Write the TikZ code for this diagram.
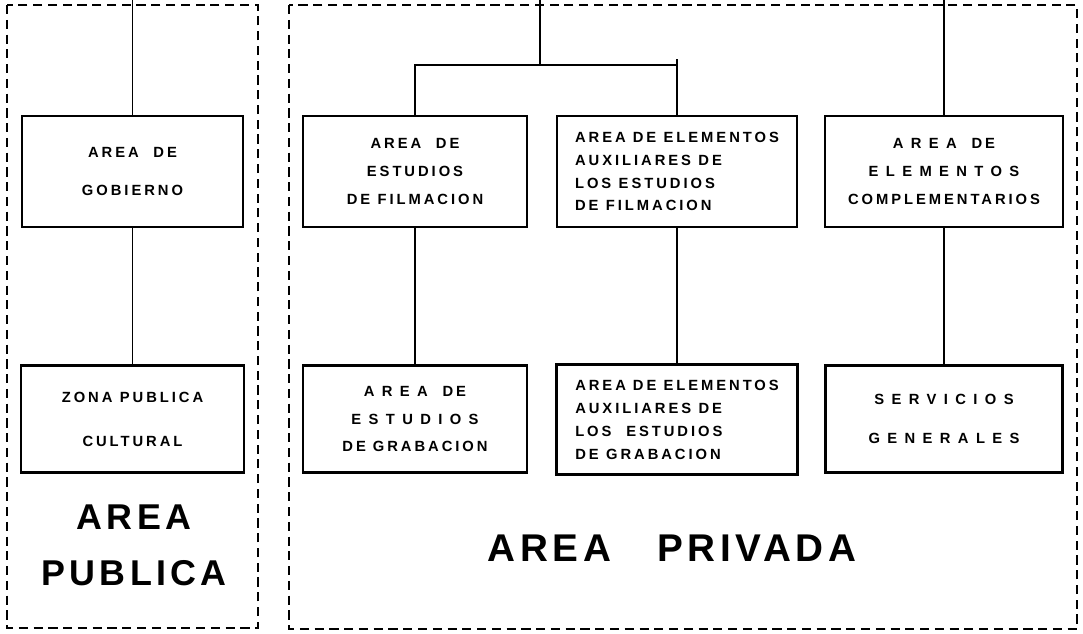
\documentclass[tikz,border=0pt]{standalone}
\usepackage{fontspec}
\setmainfont{Liberation Sans}
\newfontfamily\boxfont[LetterSpace=20]{Liberation Sans}
\newfontfamily\bigfont[LetterSpace=12]{Liberation Sans}
\newcommand{\wide}[1]{{\addfontfeature{LetterSpace=50}#1}}
\usetikzlibrary{positioning}

\begin{document}
\begin{tikzpicture}[x=0.025cm, y=-0.025cm,
    area/.style={draw, line width=1.8pt, minimum height=2.775cm, inner sep=2pt,
        align=center, font=\boxfont\bfseries\fontsize{10.5}{16.3}\selectfont},
    link/.style={line width=0.9pt},
    zone/.style={line width=1pt, dash pattern=on 6.5pt off 4pt}]

    \useasboundingbox (0,0) rectangle (1083,633);

    %zonas
    \draw[zone] (7,5) rectangle (258,628);
    \draw[zone] (289,5) rectangle (1077,629);

    %fila superior
    \node[area, minimum width=5.525cm] (gob) at (132.5,171.5) {AREA\quad DE\\[11pt]GOBIERNO};
    \node[area, minimum width=5.6cm] (film) at (415,171.5) {AREA\quad DE\\[3.5pt]ESTUDIOS\\[3.5pt]DE\enspace FILMACION};
    \node[area, minimum width=6cm, align=left] (auxfilm) at (677,171.5) {AREA DE\enspace ELEMENTOS\\AUXILIARES\enspace DE\\LOS\enspace ESTUDIOS\\DE\enspace FILMACION};
    \node[area, minimum width=5.95cm] (compl) at (944,171.5) {\wide{AREA}\quad DE\\[3.5pt]\wide{ELEMENTOS}\\[3.5pt]COMPLEMENTARIOS};

    %fila inferior
    \node[area, minimum width=5.575cm, minimum height=2.675cm, below=3.4cm of gob] (zona) {ZONA\enspace PUBLICA\\[15pt]CULTURAL};
    \node[area, minimum width=5.6cm, minimum height=2.675cm, below=3.4cm of film] (grab) {\wide{AREA}\quad DE\\[3.5pt]\wide{ESTUDIOS}\\[3.5pt]DE GRABACION};
    \node[area, minimum width=6.025cm, minimum height=2.75cm, align=left, below=3.375cm of auxfilm] (auxgrab) {AREA DE ELEMENTOS\\AUXILIARES\enspace DE\\LOS\quad ESTUDIOS\\DE\enspace GRABACION};
    \node[area, minimum width=5.925cm, minimum height=2.675cm, below=3.4cm of compl] (serv) {\wide{SERVICIOS}\\[11.5pt]\wide{GENERALES}};

    %titulos
    \node[font=\bigfont\bfseries\fontsize{25.5}{40}\selectfont, align=center] (pub) at (134,545) {AREA\\PUBLICA};
    \node[font=\bigfont\bfseries\fontsize{27.5}{32}\selectfont] (priv) at (672,548) {AREA\hspace{1.2em}PRIVADA};

    %enlaces
    \coordinate (inL) at (132.5,0);
    \coordinate (inM) at (540,0);
    \coordinate (inR) at (944,0);
    \coordinate (split) at (540,65);
    \coordinate (tick) at (677,59);

    \draw[link] (inL) -- (gob);
    \draw[link] (gob) -- (zona);
    \draw[link] (inM) -- (split);
    \draw[link] (film.north) |- (split) -| (tick);
    \draw[link] (tick) -- (auxfilm);
    \draw[link] (film) -- (grab);
    \draw[link] (auxfilm) -- (auxgrab);
    \draw[link] (inR) -- (compl);
    \draw[link] (compl) -- (serv);

\end{tikzpicture}
\end{document}
